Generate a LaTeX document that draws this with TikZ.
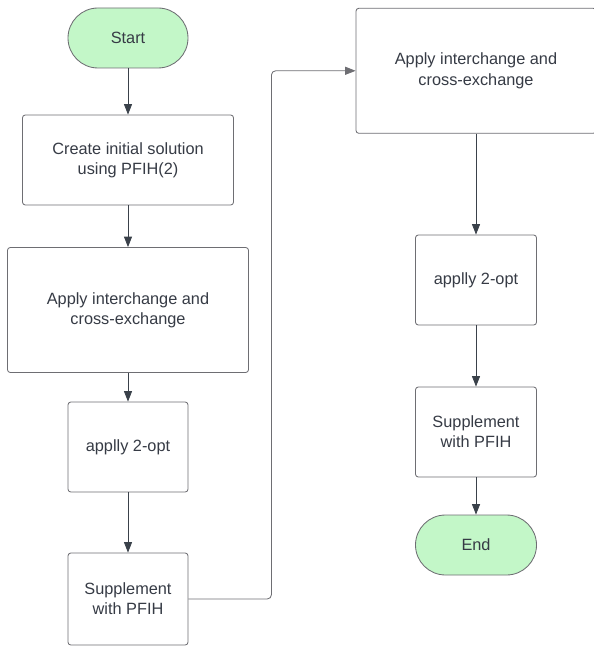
\documentclass[tikz,border=0pt]{standalone}
\usepackage{fontspec}
\setmainfont{Liberation Sans}
\usetikzlibrary{arrows.meta}
\definecolor{termfill}{HTML}{C3F7C8}
\definecolor{boxline}{HTML}{6E6E73}
\definecolor{txt}{HTML}{363B45}
\definecolor{arrowcol}{HTML}{3A414A}
\tikzset{
  stepbox/.style={draw=boxline, line width=0.6pt, rounded corners=2pt, fill=white,
    text=txt, align=center, inner sep=0pt, font=\fontsize{11.6}{14.4}\selectfont},
  term/.style={stepbox, fill=termfill, rounded corners=0.75cm,
    minimum width=3cm, minimum height=1.5cm},
  flow/.style={draw=arrowcol, line width=0.6pt, -{Triangle[length=2.6mm,width=2mm]}}
}
\begin{document}
\begin{tikzpicture}
  \useasboundingbox (0,0) rectangle (14.85,-16.15);
  % left column
  \node[term] (start) at (3.2,-0.95) {Start};
  \node[stepbox, minimum width=5.275cm, minimum height=2.25cm] (init) at (3.2,-4) {Create initial solution\\using PFIH(2)};
  \node[stepbox, minimum width=6.025cm, minimum height=3.125cm] (ice1) at (3.2,-7.75) {Apply interchange and\\cross-exchange};
  \node[stepbox, minimum width=3cm, minimum height=2.25cm] (opt1) at (3.2,-11.175) {applly 2-opt};
  \node[stepbox, minimum width=3cm, minimum height=2.3cm] (sup1) at (3.2,-14.975) {Supplement\\with PFIH};
  % right column
  \node[stepbox, minimum width=6cm, minimum height=3.125cm] (ice2) at (11.9,-1.77) {Apply interchange and\\cross-exchange};
  \node[stepbox, minimum width=3.025cm, minimum height=2.25cm] (opt2) at (11.9,-7) {applly 2-opt};
  \node[stepbox, minimum width=3.025cm, minimum height=2.25cm] (sup2) at (11.9,-10.8) {Supplement\\with PFIH};
  \node[term, minimum width=3.025cm] (end) at (11.9,-13.625) {End};

  \draw[flow] (start) -- (init);
  \draw[flow] (init) -- (ice1);
  \draw[flow] (ice1) -- (opt1);
  \draw[flow] (opt1) -- (sup1);
  \draw[flow, draw=boxline, rounded corners=3pt] (sup1.east) -- ++(2.075,0) |- (ice2.west);
  \draw[flow] (ice2) -- (opt2);
  \draw[flow] (opt2) -- (sup2);
  \draw[flow] (sup2) -- (end);
\end{tikzpicture}
\end{document}
